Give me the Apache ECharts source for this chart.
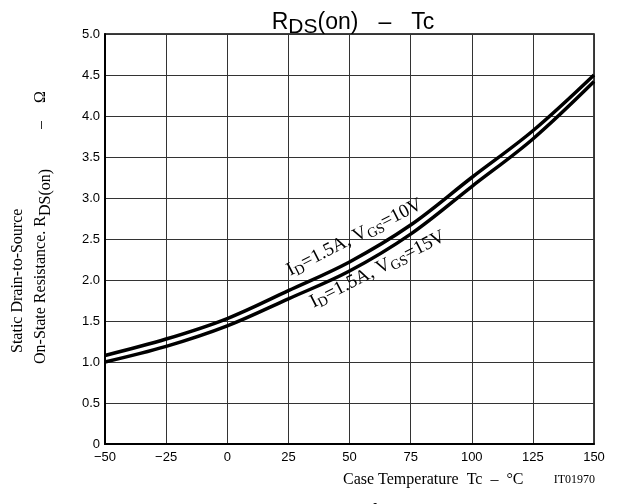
<!DOCTYPE html>
<html>
<head>
<meta charset="utf-8">
<script src="https://cdn.jsdelivr.net/npm/echarts@6/dist/echarts.min.js"></script>
<style>
  html, body { margin: 0; padding: 0; background: #fff; }
  #main { width: 621px; height: 504px; }
</style>
</head>
<body>
<div id="main"></div>
<script>
// case temperature, deg C
var temp = [-50, -25, 0, 25, 50, 75, 100, 125, 150];
// RDS(on), ohm
var rds10V = [1.08, 1.28, 1.53, 1.87, 2.22, 2.67, 3.25, 3.82, 4.50];
var rds15V = [1.00, 1.19, 1.44, 1.77, 2.11, 2.56, 3.14, 3.72, 4.42];

var serif = '"Liberation Serif", "DejaVu Serif", serif';
var sans = '"Liberation Sans", Arial, sans-serif';

function pairs(xs, ys) {
  return xs.map(function (x, i) { return [x, ys[i]]; });
}

var chart = echarts.init(document.getElementById('main'));

var option = {
  animation: false,
  backgroundColor: '#fff',
  title: {
    text: '{n|R}{s|DS}{n|(on)}{d|–}{t|Tc}',
    left: 348,
    textAlign: 'center',
    top: 3,
    textStyle: {
      fontWeight: 'normal',
      rich: {
        n: { fontFamily: sans, fontSize: 23, fontWeight: 'normal', color: '#000' },
        s: { fontFamily: sans, fontSize: 21, fontWeight: 'normal', color: '#000', padding: [9, 0, 0, 0] },
        d: { fontFamily: sans, fontSize: 23, fontWeight: 'normal', color: '#000', padding: [0, 0, 0, 20] },
        t: { fontFamily: sans, fontSize: 23, fontWeight: 'normal', color: '#000', padding: [0, 0, 0, 20] }
      }
    }
  },
  grid: {
    left: 105,
    right: 27,
    top: 34,
    bottom: 60,
    show: true,
    borderColor: '#000',
    borderWidth: 1.5
  },
  xAxis: {
    type: 'value',
    min: -50,
    max: 150,
    interval: 25,
    axisLine: { show: true, onZero: false, lineStyle: { color: '#000', width: 2 } },
    axisTick: { show: false },
    splitLine: { show: true, lineStyle: { color: '#333', width: 1 } },
    axisLabel: {
      color: '#000',
      fontFamily: sans,
      fontSize: 13,
      margin: 7,
      formatter: function (v) { return String(v).replace('-', '\u2212'); }
    }
  },
  yAxis: {
    type: 'value',
    min: 0,
    max: 5,
    interval: 0.5,
    axisLine: { show: true, onZero: false, lineStyle: { color: '#000', width: 2 } },
    axisTick: { show: false },
    splitLine: { show: true, lineStyle: { color: '#333', width: 1 } },
    axisLabel: {
      color: '#000',
      fontFamily: sans,
      fontSize: 13,
      margin: 5,
      formatter: function (v) { return v === 0 ? '0' : v.toFixed(1); }
    }
  },
  series: [
    {
      name: 'VGS=10V',
      type: 'line',
      data: pairs(temp, rds10V),
      smooth: 0.35,
      symbol: 'none',
      lineStyle: { color: '#000', width: 3.5 }
    },
    {
      name: 'VGS=15V',
      type: 'line',
      data: pairs(temp, rds15V),
      smooth: 0.35,
      symbol: 'none',
      lineStyle: { color: '#000', width: 3.5 }
    }
  ]
};

chart.setOption(option);

// annotation anchors in data space
var p10 = chart.convertToPixel({ gridIndex: 0 }, [52.0, 2.52]);
var p15 = chart.convertToPixel({ gridIndex: 0 }, [61.5, 2.13]);
var ang = 27 * Math.PI / 180;

var curveRich = {
  n: { fontFamily: serif, fontSize: 19, fill: '#000' },
  s: { fontFamily: serif, fontSize: 14, fill: '#000', padding: [9, 0, 0, 0] }
};
var nameRich = {
  n: { fontFamily: serif, fontSize: 16, fill: '#000' },
  s: { fontFamily: serif, fontSize: 16, fill: '#000', padding: [10, 0, 0, 0] },
  d: { fontFamily: serif, fontSize: 16, fill: '#000', padding: [0, 0, 0, 40] },
  o: { fontFamily: serif, fontSize: 16, fill: '#000', padding: [0, 0, 0, 18] }
};

chart.setOption({
  graphic: [
    {
      type: 'text', x: p10[0], y: p10[1], rotation: ang,
      style: {
        text: '{n|I}{s|D}{n|=1.5A, V}{s|GS}{n|=10V}',
        rich: curveRich, align: 'center', verticalAlign: 'middle'
      }
    },
    {
      type: 'text', x: p15[0], y: p15[1], rotation: ang,
      style: {
        text: '{n|I}{s|D}{n|=1.5A, V}{s|GS}{n|=15V}',
        rich: curveRich, align: 'center', verticalAlign: 'middle'
      }
    },
    {
      type: 'text', x: 18, y: 353, rotation: Math.PI / 2,
      style: {
        text: 'Static Drain-to-Source',
        font: '16px ' + serif, fill: '#000', align: 'left', verticalAlign: 'middle'
      }
    },
    {
      type: 'text', x: 41, y: 364, rotation: Math.PI / 2,
      style: {
        text: '{n|On-State Resistance. R}{s|DS(on)}{d|–}{o|Ω}',
        rich: nameRich, align: 'left', verticalAlign: 'middle'
      }
    },
    {
      type: 'text', x: 343, y: 480,
      style: {
        text: 'Case Temperature  Tc  –  °C',
        font: '16px ' + serif, fill: '#000', align: 'left', verticalAlign: 'middle'
      }
    },
    {
      type: 'text', x: 595, y: 480,
      style: {
        text: 'IT01970',
        font: '12px ' + serif, fill: '#000', align: 'right', verticalAlign: 'middle'
      }
    },
    {
      type: 'text', x: 395, y: 513,
      style: {
        text: '|yfs|  –  Ic',
        font: '20px ' + serif, fill: '#000', align: 'center', verticalAlign: 'middle'
      }
    }
  ]
});
</script>
</body>
</html>
